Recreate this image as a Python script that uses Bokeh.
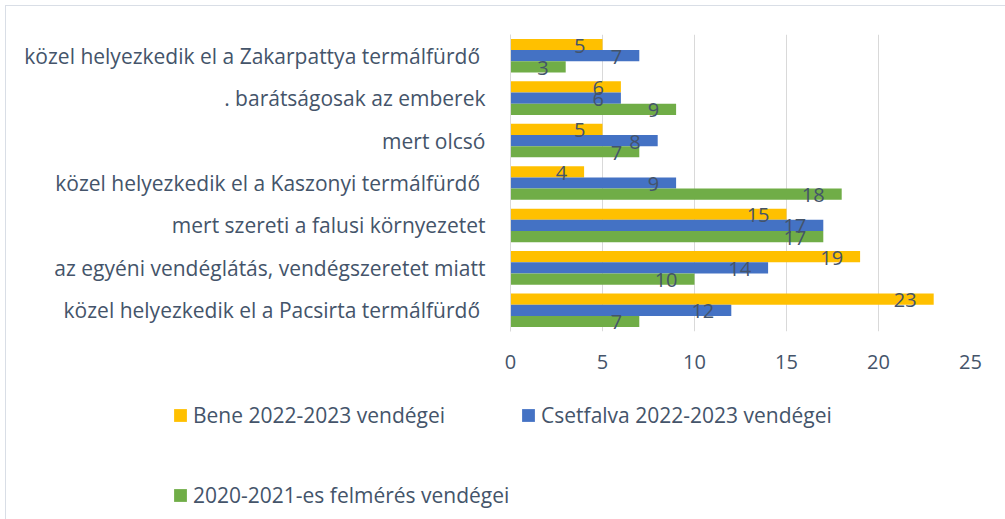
from bokeh.plotting import figure
from bokeh.layouts import column
from bokeh.models import FactorRange, ColumnDataSource, LabelSet, Legend, LegendItem, FixedTicker, Range1d
from bokeh.transform import dodge
from bokeh.core.properties import value
from bokeh.embed import file_html
from bokeh.resources import INLINE

categories = [
    "közel helyezkedik el a Zakarpattya termálfürdő ",
    ". barátságosak az emberek",
    "mert olcsó",
    "közel helyezkedik el a Kaszonyi termálfürdő ",
    "mert szereti a falusi környezetet",
    "az egyéni vendéglátás, vendégszeretet miatt",
    "közel helyezkedik el a Pacsirta termálfürdő ",
]
bene = [5, 6, 5, 4, 15, 19, 23]
csetfalva = [7, 6, 8, 9, 17, 14, 12]
felmeres = [3, 9, 7, 18, 17, 10, 7]
series_names = ["Bene 2022-2023 vendégei", "Csetfalva 2022-2023 vendégei", "2020-2021-es felmérés vendégei"]
colors = ["#FFC000", "#4472C4", "#70AD47"]
x_ticks = [0, 5, 10, 15, 20, 25]

FONT = "Open Sans"
TXT = "#44546A"

src = ColumnDataSource(dict(cat=categories, bene=bene, cset=csetfalva, felm=felmeres,
                            bene_t=[str(v) for v in bene], cset_t=[str(v) for v in csetfalva],
                            felm_t=[str(v) for v in felmeres]))

p = figure(width=999, height=374, output_backend="svg", toolbar_location=None,
           y_range=FactorRange(factors=list(reversed(categories))),
           x_range=(0, 25), min_border_left=504, min_border_right=35,
           min_border_top=28, min_border_bottom=49)
p.frame_align = False
p.outline_line_color = None
p.background_fill_color = "white"
p.border_fill_color = "white"

off = 0.264
h = 0.264
r1 = p.hbar(y=dodge("cat", off, range=p.y_range), right="bene", left=0, height=h, source=src,
            fill_color=colors[0], line_color=None)
r2 = p.hbar(y=dodge("cat", 0, range=p.y_range), right="cset", left=0, height=h, source=src,
            fill_color=colors[1], line_color=None)
r3 = p.hbar(y=dodge("cat", -off, range=p.y_range), right="felm", left=0, height=h, source=src,
            fill_color=colors[2], line_color=None)

for field, o in [("bene", off), ("cset", 0), ("felm", -off)]:
    lab = LabelSet(x=field, y=dodge("cat", o, range=p.y_range), text=field + "_t", source=src,
                   text_align="right", text_baseline="middle", x_offset=-17, y_offset=-1,
                   text_font=value(FONT), text_font_size="20px", text_color=TXT)
    p.add_layout(lab)

p.xaxis.ticker = FixedTicker(ticks=x_ticks)
p.xaxis.axis_line_color = None
p.xaxis.major_tick_line_color = None
p.xaxis.minor_tick_line_color = None
p.xaxis.major_label_standoff = 17
p.xaxis.major_label_text_font = FONT
p.xaxis.major_label_text_font_size = "20px"
p.xaxis.major_label_text_color = TXT

p.yaxis.axis_line_color = "#D9D9D9"
p.yaxis.major_tick_line_color = None
p.yaxis.minor_tick_line_color = None
p.yaxis.major_label_standoff = 19
p.yaxis.major_label_text_font = FONT
p.yaxis.major_label_text_font_size = "21px"
p.yaxis.major_label_text_color = TXT

p.xgrid.grid_line_color = "#D9D9D9"
p.ygrid.grid_line_color = None

# legend panel (proxy renderers are hidden; only their legend swatches are shown)
pl = figure(width=999, height=139, output_backend="svg", toolbar_location=None,
            x_range=Range1d(0, 1), y_range=Range1d(0, 1), x_axis_type=None, y_axis_type=None,
            min_border=0, min_border_left=0, min_border_right=0, min_border_top=0, min_border_bottom=0)
pl.frame_align = False
pl.outline_line_color = None
pl.xgrid.visible = False
pl.ygrid.visible = False
d1 = pl.hbar(y="bene", right="bene", source=src, height=0.1, fill_color=colors[0], line_color=None, visible=False)
d2 = pl.hbar(y="cset", right="cset", source=src, height=0.1, fill_color=colors[1], line_color=None, visible=False)
d3 = pl.hbar(y="felm", right="felm", source=src, height=0.1, fill_color=colors[2], line_color=None, visible=False)

def mk_legend(items, loc, spacing):
    return Legend(items=items, location=loc, orientation="horizontal", spacing=spacing,
                  padding=0, margin=0, border_line_color=None, background_fill_alpha=0,
                  glyph_width=16, glyph_height=16, label_standoff=5,
                  inactive_fill_alpha=0, click_policy="none",
                  label_text_font=FONT, label_text_font_size="21px", label_text_color=TXT)

leg1 = mk_legend([LegendItem(label=series_names[0], renderers=[d1]),
                  LegendItem(label=series_names[1], renderers=[d2])], (166, 90), 75)
leg2 = mk_legend([LegendItem(label=series_names[2], renderers=[d3])], (166, 10), 10)
pl.add_layout(leg1, "center")
pl.add_layout(leg2, "center")

layout = column(p, pl, spacing=0)
layout.styles = {"margin-left": "5px", "margin-top": "5px",
                 "border-left": "1px solid #D9DEE6", "border-top": "1px solid #D9DEE6"}
open("out.html", "w").write(file_html(layout, INLINE))
